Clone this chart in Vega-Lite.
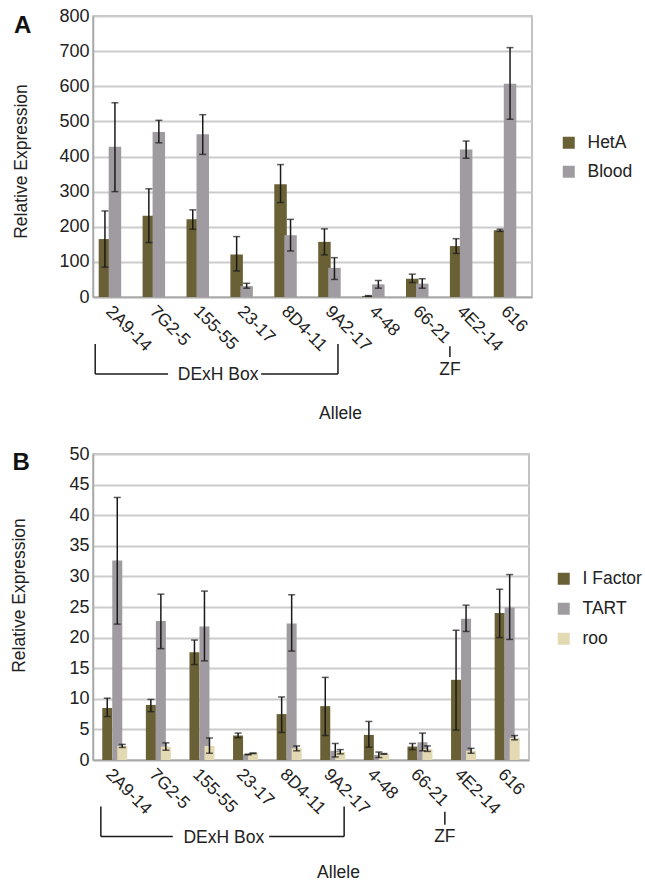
{
  "$schema": "https://vega.github.io/schema/vega-lite/v6.json",
  "padding": {"left": 10, "top": 6, "right": 0, "bottom": 0},
  "background": "white",
  "spacing": 21,
  "resolve": {"scale": {"color": "independent"}, "legend": {"color": "independent"}},
  "config": {
    "font": "Liberation Sans",
    "view": {"stroke": "#b0b0b0", "strokeWidth": 1.5},
    "axis": {
      "labelFont": "Liberation Sans", "titleFont": "Liberation Sans",
      "labelColor": "#222222", "titleColor": "#222222",
      "titleFontWeight": "normal", "ticks": false,
      "domainColor": "#a8a8a8", "domainWidth": 1.5,
      "gridColor": "#cccccc", "gridWidth": 2
    },
    "legend": {"labelFont": "Liberation Sans", "labelColor": "#222222"}
  },
  "datasets": {
    "A": [
      {"allele": "2A9-14", "series": "HetA", "value": 165, "lo": 85, "hi": 245},
      {"allele": "2A9-14", "series": "Blood", "value": 428, "lo": 300, "hi": 553},
      {"allele": "7G2-5", "series": "HetA", "value": 231, "lo": 155, "hi": 308},
      {"allele": "7G2-5", "series": "Blood", "value": 470, "lo": 439, "hi": 503},
      {"allele": "155-55", "series": "HetA", "value": 221, "lo": 193, "hi": 248},
      {"allele": "155-55", "series": "Blood", "value": 463, "lo": 406, "hi": 519},
      {"allele": "23-17", "series": "HetA", "value": 121, "lo": 74, "hi": 172},
      {"allele": "23-17", "series": "Blood", "value": 31, "lo": 25, "hi": 39},
      {"allele": "8D4-11", "series": "HetA", "value": 321, "lo": 269, "hi": 377},
      {"allele": "8D4-11", "series": "Blood", "value": 176, "lo": 131, "hi": 221},
      {"allele": "9A2-17", "series": "HetA", "value": 157, "lo": 120, "hi": 194},
      {"allele": "9A2-17", "series": "Blood", "value": 83, "lo": 50, "hi": 112},
      {"allele": "4-48", "series": "HetA", "value": 3, "lo": 2, "hi": 4},
      {"allele": "4-48", "series": "Blood", "value": 36, "lo": 25, "hi": 47},
      {"allele": "66-21", "series": "HetA", "value": 52, "lo": 41, "hi": 65},
      {"allele": "66-21", "series": "Blood", "value": 38, "lo": 25, "hi": 52},
      {"allele": "4E2-14", "series": "HetA", "value": 145, "lo": 124, "hi": 166},
      {"allele": "4E2-14", "series": "Blood", "value": 420, "lo": 395, "hi": 444},
      {"allele": "616", "series": "HetA", "value": 190, "lo": 187, "hi": 193},
      {"allele": "616", "series": "Blood", "value": 607, "lo": 506, "hi": 710}
    ],
    "B": [
      {"allele": "2A9-14", "series": "I Factor", "value": 8.5, "lo": 7.1, "hi": 10.1},
      {"allele": "2A9-14", "series": "TART", "value": 32.6, "lo": 22.2, "hi": 42.9},
      {"allele": "2A9-14", "series": "roo", "value": 2.3, "lo": 2.05, "hi": 2.55},
      {"allele": "7G2-5", "series": "I Factor", "value": 9.0, "lo": 7.9, "hi": 9.9},
      {"allele": "7G2-5", "series": "TART", "value": 22.7, "lo": 18.2, "hi": 27.1},
      {"allele": "7G2-5", "series": "roo", "value": 2.2, "lo": 1.6, "hi": 2.8},
      {"allele": "155-55", "series": "I Factor", "value": 17.6, "lo": 15.6, "hi": 19.6},
      {"allele": "155-55", "series": "TART", "value": 21.8, "lo": 16.2, "hi": 27.6},
      {"allele": "155-55", "series": "roo", "value": 2.3, "lo": 1.1, "hi": 3.6},
      {"allele": "23-17", "series": "I Factor", "value": 4.0, "lo": 3.65, "hi": 4.4},
      {"allele": "23-17", "series": "TART", "value": 0.9, "lo": 0.85, "hi": 0.95},
      {"allele": "23-17", "series": "roo", "value": 1.1, "lo": 1.05, "hi": 1.15},
      {"allele": "8D4-11", "series": "I Factor", "value": 7.5, "lo": 4.5, "hi": 10.3},
      {"allele": "8D4-11", "series": "TART", "value": 22.3, "lo": 17.8, "hi": 27.0},
      {"allele": "8D4-11", "series": "roo", "value": 1.9, "lo": 1.5, "hi": 2.3},
      {"allele": "9A2-17", "series": "I Factor", "value": 8.8, "lo": 4.0, "hi": 13.5},
      {"allele": "9A2-17", "series": "TART", "value": 1.5, "lo": 0.5, "hi": 2.7},
      {"allele": "9A2-17", "series": "roo", "value": 1.3, "lo": 1.0, "hi": 1.7},
      {"allele": "4-48", "series": "I Factor", "value": 4.1, "lo": 2.1, "hi": 6.3},
      {"allele": "4-48", "series": "TART", "value": 0.8, "lo": 0.4, "hi": 1.3},
      {"allele": "4-48", "series": "roo", "value": 1.0, "lo": 0.95, "hi": 1.05},
      {"allele": "66-21", "series": "I Factor", "value": 2.2, "lo": 1.7, "hi": 2.7},
      {"allele": "66-21", "series": "TART", "value": 2.9, "lo": 1.5, "hi": 4.4},
      {"allele": "66-21", "series": "roo", "value": 1.8, "lo": 1.4, "hi": 2.3},
      {"allele": "4E2-14", "series": "I Factor", "value": 13.1, "lo": 4.9, "hi": 21.2},
      {"allele": "4E2-14", "series": "TART", "value": 23.1, "lo": 21.0, "hi": 25.3},
      {"allele": "4E2-14", "series": "roo", "value": 1.5, "lo": 1.1, "hi": 1.9},
      {"allele": "616", "series": "I Factor", "value": 24.0, "lo": 20.0, "hi": 27.9},
      {"allele": "616", "series": "TART", "value": 24.9, "lo": 19.7, "hi": 30.3},
      {"allele": "616", "series": "roo", "value": 3.6, "lo": 3.3, "hi": 4.0}
    ],
    "linesA": [
      {"x": 0.05, "x2": 0.05, "y": -134, "y2": -219},
      {"x": 5.58, "x2": 5.58, "y": -134, "y2": -219},
      {"x": 0.05, "x2": 1.71, "y": -219, "y2": -219},
      {"x": 3.83, "x2": 5.58, "y": -219, "y2": -219},
      {"x": 8.13, "x2": 8.13, "y": -140, "y2": -171}
    ],
    "textA": [
      {"label": "DExH Box", "x": 2.85, "y": -221},
      {"label": "ZF", "x": 8.13, "y": -208}
    ],
    "letterA": [{"label": "A", "x": -1.6, "y": 771}],
    "linesB": [
      {"x": 0.18, "x2": 0.18, "y": -7.6, "y2": -12.5},
      {"x": 5.76, "x2": 5.76, "y": -7.6, "y2": -12.5},
      {"x": 0.18, "x2": 1.83, "y": -12.5, "y2": -12.5},
      {"x": 4.04, "x2": 5.76, "y": -12.5, "y2": -12.5},
      {"x": 8.07, "x2": 8.07, "y": -8.45, "y2": -10.6}
    ],
    "textB": [
      {"label": "DExH Box", "x": 3.0, "y": -12.7},
      {"label": "ZF", "x": 8.07, "y": -12.6}
    ],
    "letterB": [{"label": "B", "x": -1.65, "y": 48.6}]
  },
  "vconcat": [
    {
      "width": 439,
      "height": 281,
      "layer": [
        {
          "data": {"name": "A"},
          "encoding": {
            "x": {
              "field": "allele", "type": "nominal",
              "sort": ["2A9-14", "7G2-5", "155-55", "23-17", "8D4-11", "9A2-17", "4-48", "66-21", "4E2-14", "616"],
              "scale": {"paddingInner": 0.43, "paddingOuter": 0.215},
              "axis": {"title": "Allele", "labelAngle": 45, "labelFontSize": 17.5, "labelPadding": 5, "labelOverlap": false, "titleFontSize": 17.5, "titlePadding": 50, "titleX": 247}
            },
            "xOffset": {"field": "series", "type": "nominal", "sort": ["HetA", "Blood"], "scale": {"range": [0, 25], "paddingInner": 0.0001, "paddingOuter": 0.0001}}
          },
          "layer": [
            {
              "mark": {"type": "bar", "width": 12.5},
              "encoding": {
                "y": {"field": "value", "type": "quantitative", "scale": {"domain": [0, 800]},
                  "axis": {"title": "Relative Expression", "values": [0, 100, 200, 300, 400, 500, 600, 700, 800], "labelFontSize": 18, "labelPadding": 4, "titleFontSize": 17.5, "titlePadding": 28, "titleY": 145}},
                "color": {
                  "field": "series", "type": "nominal",
                  "scale": {"domain": ["HetA", "Blood"], "range": ["#6a6036", "#a09ba0"]},
                  "legend": {"orient": "none", "legendX": 467, "legendY": 118, "title": null, "symbolType": "square", "symbolSize": 144, "labelFontSize": 17.5, "rowPadding": 10, "labelOffset": 10, "padding": 0}
                }
              }
            },
            {
              "mark": {"type": "rule", "color": "#1a1a1a", "strokeWidth": 1.5},
              "encoding": {
                "y": {"field": "lo", "type": "quantitative", "scale": {"domain": [0, 800]},
                  "axis": {"title": "Relative Expression", "values": [0, 100, 200, 300, 400, 500, 600, 700, 800], "labelFontSize": 18, "labelPadding": 4, "titleFontSize": 17.5, "titlePadding": 28, "titleY": 145}},
                "y2": {"field": "hi"}
              }
            },
            {
              "mark": {"type": "tick", "color": "#1a1a1a", "size": 7, "thickness": 1.5},
              "encoding": {
                "y": {"field": "lo", "type": "quantitative", "scale": {"domain": [0, 800]},
                  "axis": {"title": "Relative Expression", "values": [0, 100, 200, 300, 400, 500, 600, 700, 800], "labelFontSize": 18, "labelPadding": 4, "titleFontSize": 17.5, "titlePadding": 28, "titleY": 145}}
              }
            },
            {
              "mark": {"type": "tick", "color": "#1a1a1a", "size": 7, "thickness": 1.5},
              "encoding": {
                "y": {"field": "hi", "type": "quantitative", "scale": {"domain": [0, 800]},
                  "axis": {"title": "Relative Expression", "values": [0, 100, 200, 300, 400, 500, 600, 700, 800], "labelFontSize": 18, "labelPadding": 4, "titleFontSize": 17.5, "titlePadding": 28, "titleY": 145}}
              }
            }
          ]
        },
        {
          "layer": [
            {
              "data": {"name": "linesA"},
              "mark": {"type": "rule", "color": "#1a1a1a", "strokeWidth": 1.5},
              "encoding": {
                "x": {"field": "x", "type": "quantitative", "scale": {"domain": [0, 10], "nice": false, "zero": false}, "axis": null},
                "x2": {"field": "x2"},
                "y": {"field": "y", "type": "quantitative", "scale": {"domain": [0, 800], "nice": false, "zero": false}, "axis": null},
                "y2": {"field": "y2"}
              }
            },
            {
              "data": {"name": "textA"},
              "mark": {"type": "text", "fontSize": 17.5, "color": "#222222", "align": "center", "baseline": "middle"},
              "encoding": {
                "x": {"field": "x", "type": "quantitative", "scale": {"domain": [0, 10], "nice": false, "zero": false}, "axis": null},
                "y": {"field": "y", "type": "quantitative", "scale": {"domain": [0, 800], "nice": false, "zero": false}, "axis": null},
                "text": {"field": "label"}
              }
            },
            {
              "data": {"name": "letterA"},
              "mark": {"type": "text", "fontSize": 24, "fontWeight": "bold", "color": "#111111", "align": "center", "baseline": "middle"},
              "encoding": {
                "x": {"field": "x", "type": "quantitative", "scale": {"domain": [0, 10], "nice": false, "zero": false}, "axis": null},
                "y": {"field": "y", "type": "quantitative", "scale": {"domain": [0, 800], "nice": false, "zero": false}, "axis": null},
                "text": {"field": "label"}
              }
            }
          ]
        }
      ],
      "resolve": {"scale": {"x": "independent", "y": "independent"}}
    },
    {
      "width": 436,
      "height": 306,
      "layer": [
        {
          "data": {"name": "B"},
          "encoding": {
            "x": {
              "field": "allele", "type": "nominal",
              "sort": ["2A9-14", "7G2-5", "155-55", "23-17", "8D4-11", "9A2-17", "4-48", "66-21", "4E2-14", "616"],
              "scale": {"paddingInner": 0.31, "paddingOuter": 0.155},
              "axis": {"title": "Allele", "labelAngle": 45, "labelFontSize": 17.5, "labelPadding": 5, "labelOverlap": false, "titleFontSize": 17.5, "titlePadding": 46, "titleX": 245}
            },
            "xOffset": {"field": "series", "type": "nominal", "sort": ["I Factor", "TART", "roo"], "scale": {"range": [0, 30], "paddingInner": 0.0001, "paddingOuter": 0.0001}}
          },
          "layer": [
            {
              "mark": {"type": "bar", "width": 10},
              "encoding": {
                "y": {"field": "value", "type": "quantitative", "scale": {"domain": [0, 50]},
                  "axis": {"title": "Relative Expression", "values": [0, 5, 10, 15, 20, 25, 30, 35, 40, 45, 50], "labelFontSize": 18, "labelPadding": 4, "titleFontSize": 17.5, "titlePadding": 40, "titleY": 141}},
                "color": {
                  "field": "series", "type": "nominal",
                  "scale": {"domain": ["I Factor", "TART", "roo"], "range": ["#6a6036", "#a09ba0", "#e3d9b3"]},
                  "legend": {"orient": "none", "legendX": 462, "legendY": 116, "title": null, "symbolType": "square", "symbolSize": 144, "labelFontSize": 17.5, "rowPadding": 11, "labelOffset": 10, "padding": 0}
                }
              }
            },
            {
              "mark": {"type": "rule", "color": "#1a1a1a", "strokeWidth": 1.5},
              "encoding": {
                "y": {"field": "lo", "type": "quantitative", "scale": {"domain": [0, 50]},
                  "axis": {"title": "Relative Expression", "values": [0, 5, 10, 15, 20, 25, 30, 35, 40, 45, 50], "labelFontSize": 18, "labelPadding": 4, "titleFontSize": 17.5, "titlePadding": 40, "titleY": 141}},
                "y2": {"field": "hi"}
              }
            },
            {
              "mark": {"type": "tick", "color": "#1a1a1a", "size": 7, "thickness": 1.5},
              "encoding": {
                "y": {"field": "lo", "type": "quantitative", "scale": {"domain": [0, 50]},
                  "axis": {"title": "Relative Expression", "values": [0, 5, 10, 15, 20, 25, 30, 35, 40, 45, 50], "labelFontSize": 18, "labelPadding": 4, "titleFontSize": 17.5, "titlePadding": 40, "titleY": 141}}
              }
            },
            {
              "mark": {"type": "tick", "color": "#1a1a1a", "size": 7, "thickness": 1.5},
              "encoding": {
                "y": {"field": "hi", "type": "quantitative", "scale": {"domain": [0, 50]},
                  "axis": {"title": "Relative Expression", "values": [0, 5, 10, 15, 20, 25, 30, 35, 40, 45, 50], "labelFontSize": 18, "labelPadding": 4, "titleFontSize": 17.5, "titlePadding": 40, "titleY": 141}}
              }
            }
          ]
        },
        {
          "layer": [
            {
              "data": {"name": "linesB"},
              "mark": {"type": "rule", "color": "#1a1a1a", "strokeWidth": 1.5},
              "encoding": {
                "x": {"field": "x", "type": "quantitative", "scale": {"domain": [0, 10], "nice": false, "zero": false}, "axis": null},
                "x2": {"field": "x2"},
                "y": {"field": "y", "type": "quantitative", "scale": {"domain": [0, 50], "nice": false, "zero": false}, "axis": null},
                "y2": {"field": "y2"}
              }
            },
            {
              "data": {"name": "textB"},
              "mark": {"type": "text", "fontSize": 17.5, "color": "#222222", "align": "center", "baseline": "middle"},
              "encoding": {
                "x": {"field": "x", "type": "quantitative", "scale": {"domain": [0, 10], "nice": false, "zero": false}, "axis": null},
                "y": {"field": "y", "type": "quantitative", "scale": {"domain": [0, 50], "nice": false, "zero": false}, "axis": null},
                "text": {"field": "label"}
              }
            },
            {
              "data": {"name": "letterB"},
              "mark": {"type": "text", "fontSize": 24, "fontWeight": "bold", "color": "#111111", "align": "center", "baseline": "middle"},
              "encoding": {
                "x": {"field": "x", "type": "quantitative", "scale": {"domain": [0, 10], "nice": false, "zero": false}, "axis": null},
                "y": {"field": "y", "type": "quantitative", "scale": {"domain": [0, 50], "nice": false, "zero": false}, "axis": null},
                "text": {"field": "label"}
              }
            }
          ]
        }
      ],
      "resolve": {"scale": {"x": "independent", "y": "independent"}}
    }
  ]
}
